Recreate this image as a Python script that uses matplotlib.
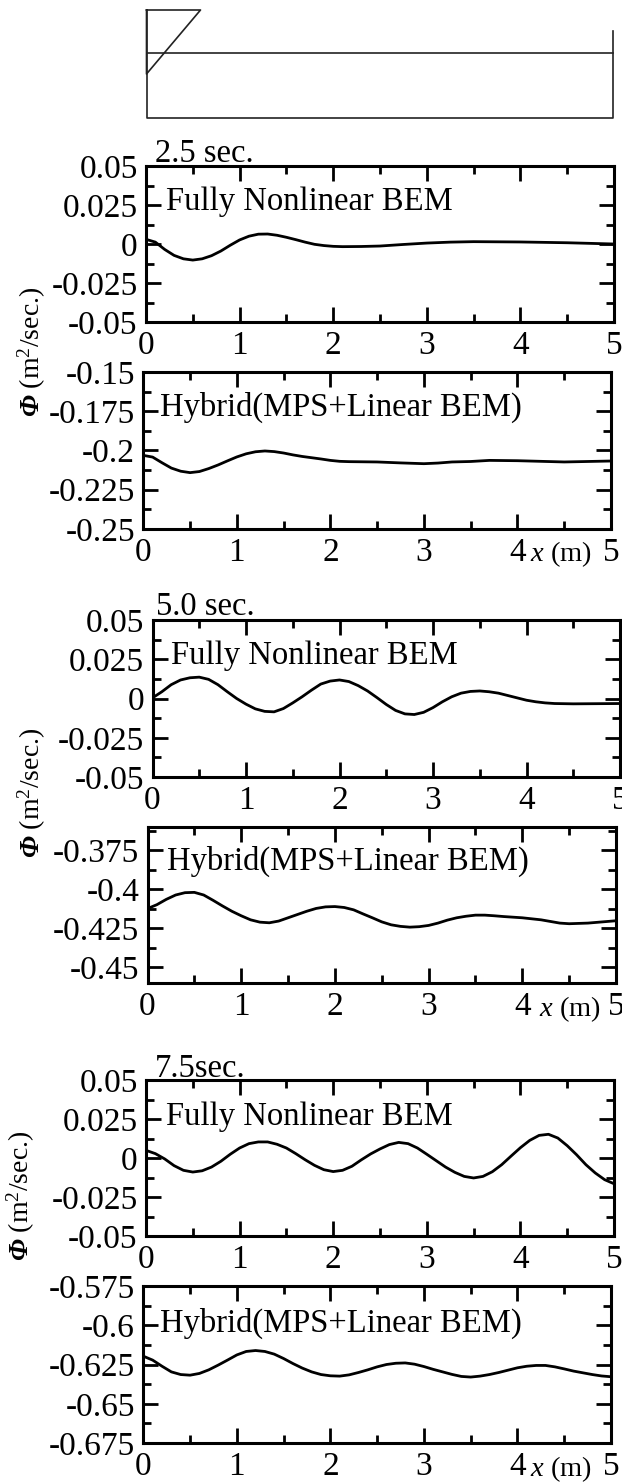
"""Free-surface potential along the tank at three times, nonlinear BEM vs hybrid."""
import matplotlib

matplotlib.use("Agg")
import matplotlib.pyplot as plt
from matplotlib.ticker import FixedLocator

plt.rcParams["font.family"] = ["Liberation Serif", "DejaVu Serif"]
plt.rcParams["mathtext.fontset"] = "custom"
plt.rcParams["mathtext.rm"] = "Liberation Serif"
plt.rcParams["mathtext.it"] = "Liberation Serif:italic"
plt.rcParams["mathtext.bf"] = "Liberation Serif:bold:italic"

W, H = 622, 1483

# values
x_25_bem = [0, 0.1, 0.2, 0.3, 0.4, 0.5, 0.6, 0.7, 0.8, 0.9, 1.0, 1.1, 1.2, 1.3, 1.4, 1.5, 1.6, 1.7, 1.8, 1.9, 2.0, 2.1, 2.3, 2.5, 2.75, 3.0, 3.25, 3.5, 4.0, 4.5, 5.0]
y_25_bem = [0.003, 0.0012, -0.0035, -0.0073, -0.0095, -0.0103, -0.0095, -0.0075, -0.0045, -0.0008, 0.0026, 0.005, 0.0063, 0.0064, 0.0056, 0.0043, 0.0028, 0.0012, -0.0002, -0.001, -0.0015, -0.0017, -0.0016, -0.0013, -0.0003, 0.0006, 0.0012, 0.0015, 0.0013, 0.0008, 0.0]

x_25_hyb = [0, 0.1, 0.2, 0.3, 0.4, 0.5, 0.6, 0.7, 0.8, 0.9, 1.0, 1.1, 1.2, 1.3, 1.4, 1.5, 1.6, 1.7, 1.8, 1.9, 2.0, 2.1, 2.2, 2.5, 2.75, 3.0, 3.15, 3.3, 3.5, 3.7, 4.0, 4.25, 4.5, 5.0]
y_25_hyb = [-0.2031, -0.2042, -0.2078, -0.2112, -0.2132, -0.2141, -0.2134, -0.2115, -0.2092, -0.2066, -0.2041, -0.2021, -0.2008, -0.2003, -0.2007, -0.2016, -0.2028, -0.2038, -0.2046, -0.2054, -0.2063, -0.2069, -0.2071, -0.2073, -0.2079, -0.2084, -0.208, -0.2073, -0.207, -0.2063, -0.2065, -0.2069, -0.2073, -0.2067]

x_50_bem = [0, 0.1, 0.2, 0.3, 0.4, 0.5, 0.6, 0.7, 0.8, 0.9, 1.0, 1.1, 1.2, 1.3, 1.4, 1.5, 1.6, 1.7, 1.8, 1.9, 2.0, 2.1, 2.2, 2.3, 2.4, 2.5, 2.6, 2.7, 2.8, 2.9, 3.0, 3.1, 3.2, 3.3, 3.4, 3.5, 3.6, 3.7, 3.8, 3.9, 4.0, 4.1, 4.2, 4.3, 4.5, 5.0]
y_50_bem = [0.0004, 0.0043, 0.0088, 0.0118, 0.0132, 0.0136, 0.0122, 0.0088, 0.0043, 0.0, -0.0036, -0.0066, -0.0082, -0.0085, -0.0064, -0.0028, 0.0011, 0.0053, 0.0092, 0.0111, 0.0118, 0.0108, 0.0082, 0.0048, 0.0006, -0.0038, -0.0076, -0.0098, -0.0102, -0.0088, -0.0058, -0.0021, 0.0011, 0.0034, 0.0045, 0.0048, 0.0043, 0.0034, 0.0019, 0.0004, -0.0011, -0.0021, -0.0028, -0.0032, -0.0034, -0.0032]

x_50_hyb = [0, 0.1, 0.2, 0.3, 0.4, 0.5, 0.6, 0.7, 0.8, 0.9, 1.0, 1.1, 1.2, 1.3, 1.4, 1.5, 1.6, 1.7, 1.8, 1.9, 2.0, 2.1, 2.2, 2.3, 2.4, 2.5, 2.6, 2.7, 2.8, 2.9, 3.0, 3.1, 3.2, 3.3, 3.4, 3.5, 3.6, 3.7, 3.8, 4.0, 4.2, 4.4, 4.5, 4.7, 5.0]
y_50_hyb = [-0.4123, -0.4098, -0.4064, -0.4036, -0.4021, -0.4019, -0.4036, -0.407, -0.4106, -0.414, -0.4169, -0.4195, -0.421, -0.4214, -0.4203, -0.4182, -0.4161, -0.414, -0.4122, -0.4112, -0.411, -0.4116, -0.4131, -0.4157, -0.4182, -0.4208, -0.4227, -0.4237, -0.4242, -0.4239, -0.4231, -0.4216, -0.4197, -0.4182, -0.4172, -0.4165, -0.4165, -0.4169, -0.4174, -0.4182, -0.4195, -0.4216, -0.422, -0.4216, -0.4201]

x_75_bem = [0, 0.1, 0.2, 0.3, 0.4, 0.5, 0.6, 0.7, 0.8, 0.9, 1.0, 1.1, 1.2, 1.3, 1.4, 1.5, 1.6, 1.7, 1.8, 1.9, 2.0, 2.1, 2.2, 2.3, 2.4, 2.5, 2.6, 2.7, 2.8, 2.9, 3.0, 3.1, 3.2, 3.3, 3.4, 3.5, 3.6, 3.7, 3.8, 3.9, 4.0, 4.1, 4.2, 4.3, 4.4, 4.5, 4.6, 4.7, 4.8, 4.9, 5.0]
y_75_bem = [0.0049, 0.0028, -0.0006, -0.0049, -0.0079, -0.009, -0.0082, -0.0058, -0.0021, 0.0024, 0.0064, 0.0092, 0.0103, 0.0103, 0.0088, 0.0064, 0.0028, -0.0011, -0.0047, -0.0075, -0.0087, -0.0079, -0.0053, -0.0012, 0.0026, 0.0058, 0.0086, 0.01, 0.0092, 0.0064, 0.0024, -0.0017, -0.0058, -0.0092, -0.0118, -0.0128, -0.0118, -0.0088, -0.0043, 0.0012, 0.0066, 0.0113, 0.0145, 0.0152, 0.0128, 0.0079, 0.0021, -0.0043, -0.0096, -0.0139, -0.0165]

x_75_hyb = [0, 0.1, 0.2, 0.3, 0.4, 0.5, 0.6, 0.7, 0.8, 0.9, 1.0, 1.1, 1.2, 1.3, 1.4, 1.5, 1.6, 1.7, 1.8, 1.9, 2.0, 2.1, 2.2, 2.3, 2.4, 2.5, 2.6, 2.7, 2.8, 2.9, 3.0, 3.1, 3.2, 3.3, 3.4, 3.5, 3.6, 3.7, 3.8, 3.9, 4.0, 4.1, 4.2, 4.3, 4.4, 4.5, 4.6, 4.7, 4.8, 4.9, 5.0]
y_75_hyb = [-0.6197, -0.6222, -0.6261, -0.6297, -0.6314, -0.6318, -0.6307, -0.6284, -0.6254, -0.6222, -0.6189, -0.6167, -0.6161, -0.6167, -0.6184, -0.6212, -0.6244, -0.6273, -0.6297, -0.6314, -0.6322, -0.6324, -0.6316, -0.6301, -0.6284, -0.6265, -0.6250, -0.6242, -0.6240, -0.6248, -0.6263, -0.6281, -0.6297, -0.6313, -0.6326, -0.633, -0.6324, -0.6314, -0.6301, -0.6286, -0.6271, -0.6261, -0.6256, -0.6256, -0.6265, -0.6278, -0.6292, -0.6303, -0.6314, -0.6323, -0.6328]

bem_yticks = [0.05, 0.025, 0, -0.025, -0.05]
bem_ylabels = ["0.05", "0.025", "0", "-0.025", "-0.05"]
bem_minor = [0.0375, 0.0125, -0.0125, -0.0375]
x_ticks = [0, 1, 2, 3, 4, 5]
x_minor = [0.5, 1.5, 2.5, 3.5, 4.5]

LABEL = 24
NOTE = 23.5


def px_axes(fig, left, right, top, bottom):
    return fig.add_axes([left / W, 1 - bottom / H, (right - left) / W, (bottom - top) / H])


def fig_text(fig, x, y, s, **kw):
    kw.setdefault("fontsize", NOTE)
    kw.setdefault("color", "black")
    fig.text(x / W, 1 - y / H, s, **kw)


def panel(fig, box, xs, ys, ylim, yticks, ylabels, yminor):
    ax = px_axes(fig, *box)
    ax.plot(xs, ys, color="black", linewidth=2.0, solid_joinstyle="round")
    ax.set_xlim(0, 5)
    ax.set_ylim(*ylim)
    ax.xaxis.set_major_locator(FixedLocator(x_ticks))
    ax.xaxis.set_minor_locator(FixedLocator(x_minor))
    ax.set_yticks(yticks)
    ax.set_yticklabels(ylabels)
    ax.yaxis.set_minor_locator(FixedLocator(yminor))
    ax.tick_params(which="major", direction="in", top=True, right=True, length=11, width=2.0, labelsize=LABEL)
    ax.tick_params(which="minor", direction="in", top=True, right=True, length=6, width=2.0)
    ax.tick_params(axis="x", which="major", pad=6)
    ax.tick_params(axis="y", which="major", pad=6)
    for spine in ax.spines.values():
        spine.set_linewidth(2.2)
    return ax


fig = plt.figure(figsize=(W / 100, H / 100), dpi=100, facecolor="white")

# tank sketch at the top
sk = fig.add_axes([0, 0, 1, 1])
sk.set_xlim(0, W)
sk.set_ylim(H, 0)
sk.axis("off")
sk.plot([146.5, 146.5, 612.5, 612.5], [10, 118, 118, 31], color="#222222", linewidth=1.2)
sk.plot([146.5, 612.5], [53, 53], color="#222222", linewidth=1.2)
sk.plot([146.5, 200.5, 146.5, 146.5], [10, 10, 74, 10], color="#222222", linewidth=1.2)

panel(fig, (146, 614, 166, 322), x_25_bem, y_25_bem, (-0.05, 0.05), bem_yticks, bem_ylabels, bem_minor)
panel(fig, (143.3, 611, 372, 529), x_25_hyb, y_25_hyb, (-0.25, -0.15),
      [-0.15, -0.175, -0.2, -0.225, -0.25], ["-0.15", "-0.175", "-0.2", "-0.225", "-0.25"],
      [-0.1625, -0.1875, -0.2125, -0.2375])
panel(fig, (152.5, 620, 620, 777), x_50_bem, y_50_bem, (-0.05, 0.05), bem_yticks, bem_ylabels, bem_minor)
panel(fig, (147.5, 616, 827, 983), x_50_hyb, y_50_hyb, (-0.46, -0.36),
      [-0.375, -0.4, -0.425, -0.45], ["-0.375", "-0.4", "-0.425", "-0.45"],
      [-0.3625, -0.3875, -0.4125, -0.4375])
panel(fig, (146, 614, 1080, 1236), x_75_bem, y_75_bem, (-0.05, 0.05), bem_yticks, bem_ylabels, bem_minor)
panel(fig, (143.3, 611, 1286, 1443), x_75_hyb, y_75_hyb, (-0.675, -0.575),
      [-0.575, -0.6, -0.625, -0.65, -0.675], ["-0.575", "-0.6", "-0.625", "-0.65", "-0.675"],
      [-0.5875, -0.6125, -0.6375, -0.6625])

fig_text(fig, 155, 162, "2.5 sec.")
fig_text(fig, 155.5, 615, "5.0 sec.")
fig_text(fig, 155, 1077, "7.5sec.")

fig_text(fig, 166, 210, "Fully Nonlinear BEM")
fig_text(fig, 171, 664, "Fully Nonlinear BEM")
fig_text(fig, 166, 1125, "Fully Nonlinear BEM")
fig_text(fig, 160, 416, "Hybrid(MPS+Linear BEM)")
fig_text(fig, 167, 870, "Hybrid(MPS+Linear BEM)")
fig_text(fig, 160, 1332, "Hybrid(MPS+Linear BEM)")

x_label = r"$\mathit{x}$ (m)"
fig_text(fig, 530, 561, x_label, fontsize=20.5)
fig_text(fig, 539, 1016, x_label, fontsize=20.5)
fig_text(fig, 530, 1476, x_label, fontsize=20.5)

phi_label = r"$\mathbf{\Phi}$ (m$^2$/sec.)"
for px, py in [(32, 352), (32, 793), (21, 1196)]:
    fig_text(fig, px, py, phi_label, fontsize=20, rotation=90, ha="center", va="center")

fig.savefig("out.png", dpi=100, facecolor="white")
